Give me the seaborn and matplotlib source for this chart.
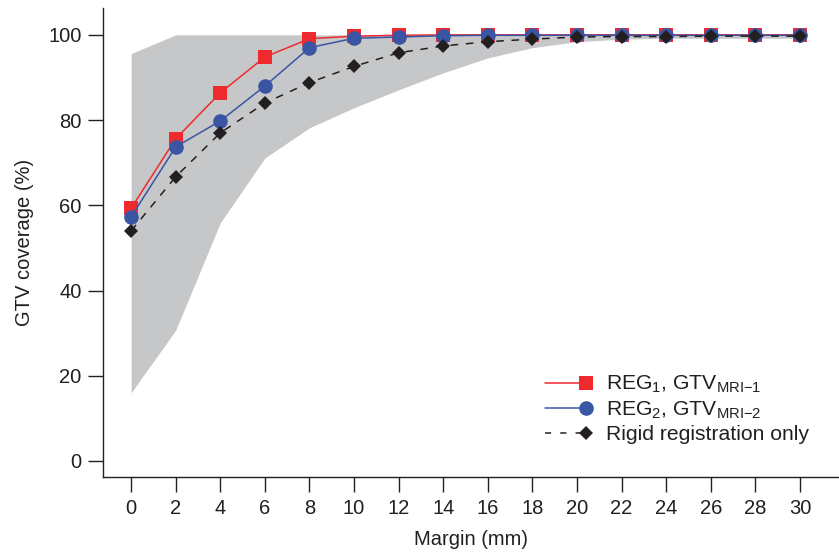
import numpy as np
import pandas as pd
import matplotlib
matplotlib.use("Agg")
import matplotlib.pyplot as plt
import seaborn as sns
from matplotlib.lines import Line2D
from matplotlib.legend_handler import HandlerBase

# values
margin = [0, 2, 4, 6, 8, 10, 12, 14, 16, 18, 20, 22, 24, 26, 28, 30]
reg1 = [59.3, 75.6, 86.4, 94.8, 99.1, 99.7, 99.9, 100, 100, 100, 100, 100, 100, 100, 100, 100]
reg2 = [57.3, 73.7, 79.8, 88.0, 97.0, 99.2, 99.5, 99.8, 99.9, 99.9, 99.9, 99.9, 99.9, 99.9, 99.9, 99.9]
rigid = [54.0, 66.7, 77.0, 84.0, 88.8, 92.6, 95.8, 97.4, 98.4, 99.0, 99.5, 99.6, 99.6, 99.7, 99.7, 99.7]
band_lo = [16.0, 30.7, 55.9, 71.1, 78.2, 82.9, 87.1, 91.1, 94.6, 97.0, 98.4, 99.0, 99.2, 99.2, 99.2, 99.2]
band_hi = [95.6, 100, 100, 100, 100, 100, 100, 100, 100, 100, 100, 100, 100, 100, 100, 100]

labels = ["REG$_1$, GTV$_{\\mathrm{MRI{\u2212}1}}$",
          "REG$_2$, GTV$_{\\mathrm{MRI{\u2212}2}}$",
          "Rigid registration only"]

df = pd.DataFrame({"Margin": margin, "reg1": reg1, "reg2": reg2, "rigid": rigid})

sns.set_style("ticks")
plt.rcParams["font.family"] = ["Liberation Sans", "DejaVu Sans"]
plt.rcParams["mathtext.fontset"] = "custom"
plt.rcParams["mathtext.rm"] = "Liberation Sans"
plt.rcParams["mathtext.it"] = "Liberation Sans"

red = "#ee2a2f"
blue = "#3a55a4"
black = "#231f20"
grey = "#c6c7c9"


# legend entry: line across, marker only at the right end (R style)
class RightMarker(HandlerBase):
    def create_artists(self, legend, orig, xdescent, ydescent, width, height,
                       fontsize, trans):
        y = (height - ydescent) / 2
        x0, x1 = -xdescent, -xdescent + width
        line = Line2D([x0, x1], [y, y])
        line.update_from(orig)
        line.set_marker("")
        mk = Line2D([x1], [y])
        mk.update_from(orig)
        mk.set_linestyle("none")
        line.set_transform(trans)
        mk.set_transform(trans)
        return [line, mk]


fig = plt.figure(figsize=(8.39, 5.53), dpi=100)
ax = fig.add_axes([0.1228, 0.1374, 0.8772, 0.8481])

ax.fill_between(margin, band_lo, band_hi, color=grey, lw=0, zorder=1)

sns.lineplot(data=df, x="Margin", y="reg1", ax=ax, color=red, lw=1.1,
             marker="s", markersize=9.5, markeredgewidth=0, zorder=3)
sns.lineplot(data=df, x="Margin", y="reg2", ax=ax, color=blue, lw=1.1,
             marker="o", markersize=10.5, markeredgewidth=0, zorder=4)
sns.lineplot(data=df, x="Margin", y="rigid", ax=ax, color=black, lw=1.1,
             marker="D", markersize=6.8, markeredgewidth=0, zorder=5,
             linestyle=(0, (5, 5)))

ax.set_xlim(-1.26, 31.75)
ax.set_ylim(-3.76, 106.3)
ax.set_xticks(margin)
ax.set_yticks([0, 20, 40, 60, 80, 100])
ax.tick_params(direction="out", length=10.5, width=1.0, labelsize=14.5,
               colors=black, pad=5)
for s in ["top", "right"]:
    ax.spines[s].set_visible(False)
for s in ["left", "bottom"]:
    ax.spines[s].set_linewidth(1.0)
    ax.spines[s].set_color(black)

ax.set_xlabel("Margin (mm)", fontsize=14.5, color=black, labelpad=9)
ax.set_ylabel("GTV coverage (%)", fontsize=14.5, color=black, labelpad=10)

handles = [
    Line2D([], [], color=red, lw=1.1, marker="s", markersize=9.5,
           markeredgewidth=0),
    Line2D([], [], color=blue, lw=1.1, marker="o", markersize=10.5,
           markeredgewidth=0),
    Line2D([], [], color=black, lw=1.1, marker="D", markersize=6.8,
           markeredgewidth=0, linestyle=(0, (4, 6))),
]
ax.legend(handles, labels, loc="lower right", bbox_to_anchor=(0.985, 0.03),
          frameon=False, fontsize=15.2, handlelength=1.94,
          handletextpad=0.95, labelspacing=0.2, labelcolor=black,
          handler_map={Line2D: RightMarker()})

fig.savefig("out.png", dpi=100)
